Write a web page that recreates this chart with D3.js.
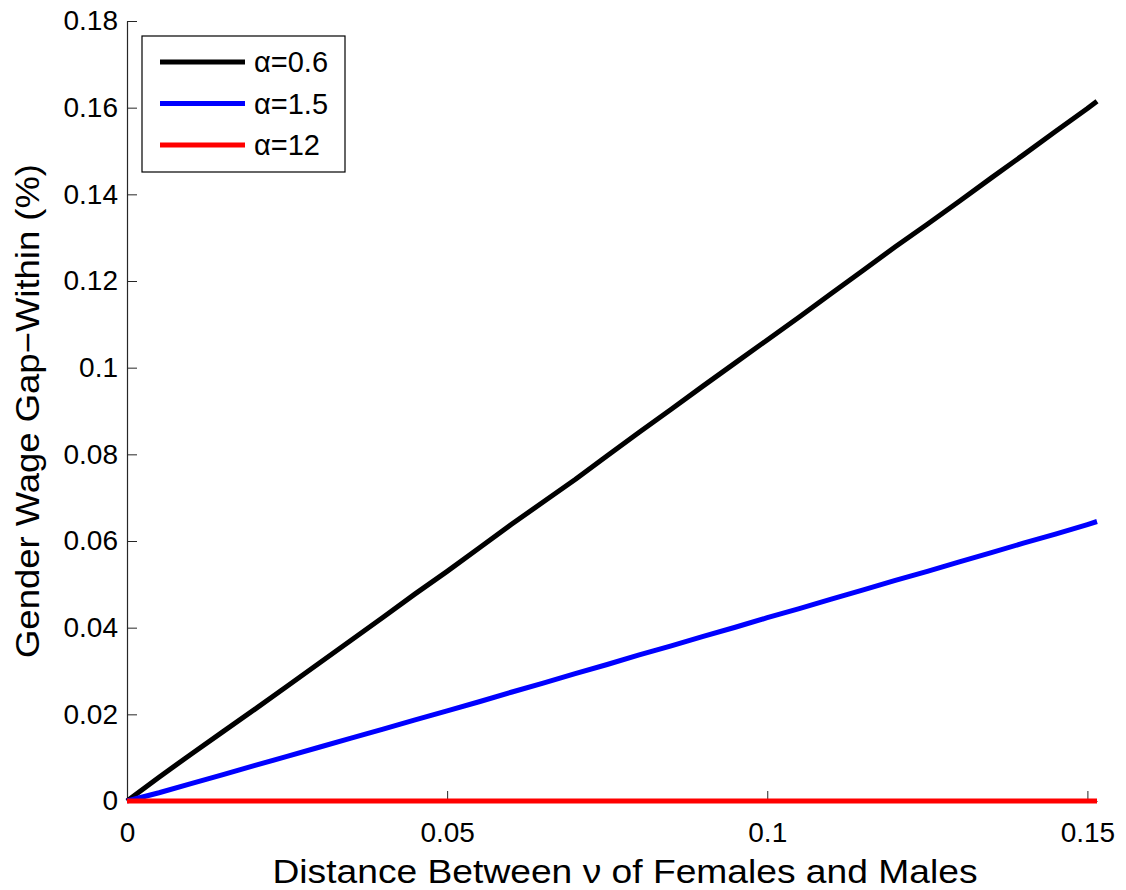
<!DOCTYPE html>
<html>
<head>
<meta charset="utf-8">
<script src="https://cdn.jsdelivr.net/npm/d3@7"></script>
<style>
  body { margin: 0; background: #fff; }
  text { font-family: "Liberation Sans", Arial, sans-serif; fill: #000; }
</style>
</head>
<body>
<div id="chart"></div>
<script>
// distance between nu of females and males
const xVals = [0, 0.005, 0.01, 0.015, 0.02, 0.025, 0.03, 0.035, 0.04, 0.045, 0.05,
  0.055, 0.06, 0.065, 0.07, 0.075, 0.08, 0.085, 0.09, 0.095, 0.1,
  0.105, 0.11, 0.115, 0.12, 0.125, 0.13, 0.135, 0.14, 0.145, 0.15, 0.1515];

const gapAlpha06 = [0, 0.0055, 0.0108, 0.0160, 0.0212, 0.0265, 0.0318, 0.0371, 0.0424, 0.0478, 0.0530,
  0.0584, 0.0638, 0.0690, 0.0742, 0.0797, 0.0851, 0.0904, 0.0958, 0.1011, 0.1064,
  0.1117, 0.1171, 0.1225, 0.1279, 0.1331, 0.1384, 0.1438, 0.1491, 0.1545, 0.1598, 0.1615];

const gapAlpha15 = [0, 0.0019, 0.0040, 0.0061, 0.0082, 0.0103, 0.0124, 0.0145, 0.0166, 0.0187, 0.0208,
  0.0229, 0.0251, 0.0272, 0.0294, 0.0315, 0.0337, 0.0358, 0.0380, 0.0401, 0.0423,
  0.0444, 0.0466, 0.0487, 0.0509, 0.0530, 0.0552, 0.0573, 0.0595, 0.0616, 0.0638, 0.0645];

const gapAlpha12 = [0, 0, 0, 0, 0, 0, 0, 0, 0, 0, 0,
  0, 0, 0, 0, 0, 0, 0, 0, 0, 0,
  0, 0, 0, 0, 0, 0, 0, 0, 0, 0, 0];

const seriesNames = ["α=0.6", "α=1.5", "α=12"];
const seriesColors = ["#000000", "#0000ff", "#ff0000"];
const xTicks = [0, 0.05, 0.1, 0.15];
const yTicks = [0, 0.02, 0.04, 0.06, 0.08, 0.1, 0.12, 0.14, 0.16, 0.18];

const series = [gapAlpha06, gapAlpha15, gapAlpha12].map((vals, i) => ({
  name: seriesNames[i],
  color: seriesColors[i],
  points: xVals.map((x, j) => ({ x: x, y: vals[j] }))
}));

const W = 1126, H = 890;
const margin = { top: 21, right: 29, bottom: 89, left: 127 };
const width = W - margin.left - margin.right;
const height = H - margin.top - margin.bottom;

const svg = d3.select("#chart").append("svg")
    .attr("width", W)
    .attr("height", H)
  .append("g")
    .attr("transform", `translate(${margin.left},${margin.top})`);

const x = d3.scaleLinear().domain([0, 0.1515]).range([0, width]);
const y = d3.scaleLinear().domain([0, 0.18]).range([height, 0]);

// x-axis (ticks pointing inward)
svg.append("g")
    .attr("transform", `translate(0,${height})`)
    .call(d3.axisBottom(x).tickValues(xTicks).tickFormat(d => d3.format("")(d))
      .tickSizeInner(-10).tickSizeOuter(0).tickPadding(21))
    .call(g => g.select(".domain").attr("stroke", "#262626").attr("stroke-width", 1.2))
    .call(g => g.selectAll(".tick line").attr("stroke", "#262626"))
    .call(g => g.selectAll("text").attr("font-size", 28).attr("fill", "#000"));

// y-axis
svg.append("g")
    .call(d3.axisLeft(y).tickValues(yTicks).tickFormat(d => d3.format("")(d))
      .tickSizeInner(-10).tickSizeOuter(0).tickPadding(9))
    .call(g => g.select(".domain").attr("stroke", "#262626").attr("stroke-width", 1.2))
    .call(g => g.selectAll(".tick line").attr("stroke", "#262626"))
    .call(g => g.selectAll("text").attr("font-size", 28).attr("fill", "#000"));

const line = d3.line()
    .x(d => x(d.x))
    .y(d => y(d.y));

svg.selectAll(".series")
    .data(series)
    .enter()
    .append("path")
      .attr("class", "series")
      .attr("fill", "none")
      .attr("stroke", d => d.color)
      .attr("stroke-width", 5)
      .attr("stroke-linejoin", "round")
      .attr("d", d => line(d.points));

// legend
const legend = svg.append("g").attr("transform", "translate(15,15)");
legend.append("rect")
    .attr("width", 203)
    .attr("height", 136)
    .attr("fill", "#fff")
    .attr("stroke", "#000")
    .attr("stroke-width", 1.2);

const items = legend.selectAll(".item")
    .data(series)
    .enter()
    .append("g")
      .attr("class", "item")
      .attr("transform", (d, i) => `translate(0,${26 + i * 41.5})`);

items.append("line")
    .attr("x1", 18).attr("x2", 103)
    .attr("stroke", d => d.color)
    .attr("stroke-width", 5);

items.append("text")
    .attr("x", 112)
    .attr("dy", "0.35em")
    .attr("font-size", 29)
    .text(d => d.name);

// axis titles
svg.append("text")
    .attr("x", 625 - margin.left)
    .attr("y", height + 82)
    .attr("text-anchor", "middle")
    .attr("font-size", 33)
    .attr("textLength", 705)
    .attr("lengthAdjust", "spacingAndGlyphs")
    .text("Distance Between ν of Females and Males");

svg.append("text")
    .attr("transform", `translate(${-127 + 39},${411 - margin.top}) rotate(-90)`)
    .attr("text-anchor", "middle")
    .attr("font-size", 33)
    .attr("textLength", 494)
    .attr("lengthAdjust", "spacingAndGlyphs")
    .text("Gender Wage Gap−Within (%)");
</script>
</body>
</html>
